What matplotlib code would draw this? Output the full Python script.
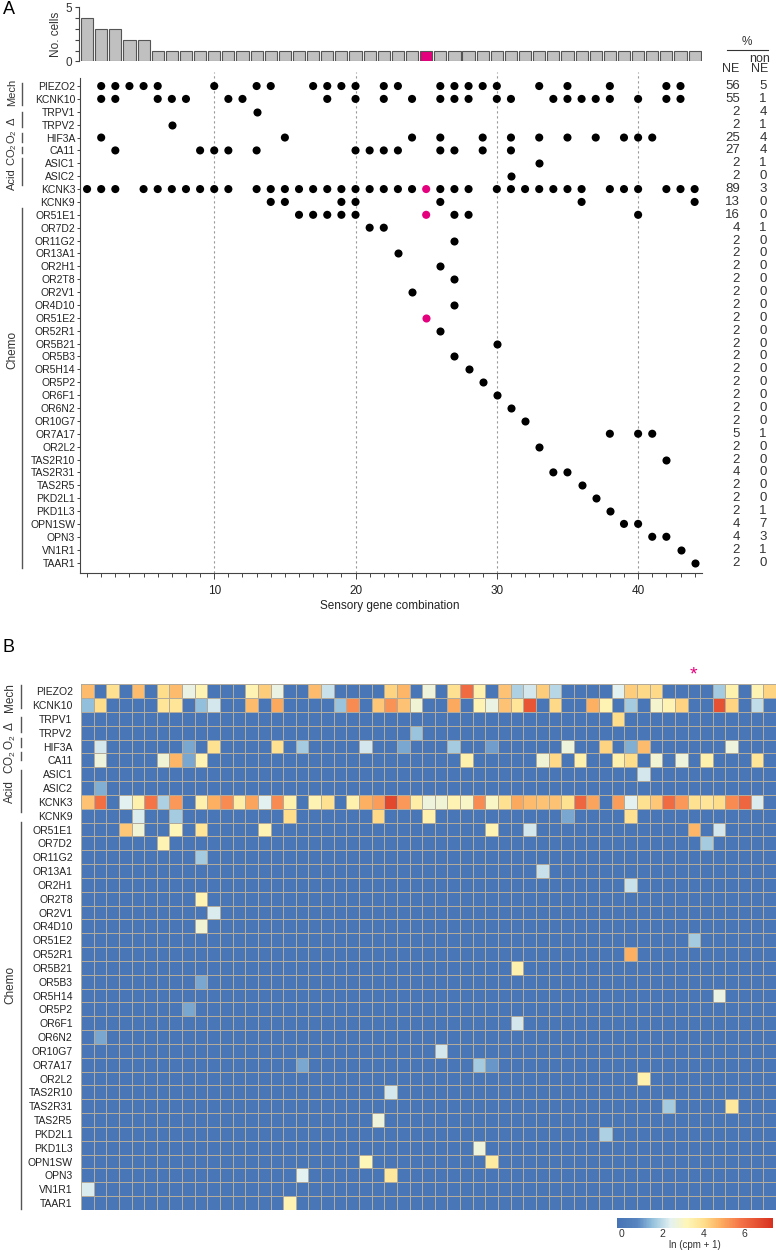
import matplotlib.pyplot as plt
import numpy as np
from matplotlib.colors import LinearSegmentedColormap
from matplotlib.lines import Line2D
from matplotlib import transforms

plt.rcParams['font.family'] = ['Liberation Sans', 'DejaVu Sans']
plt.rcParams['mathtext.default'] = 'regular'

# ---------------- data ----------------
genes = ['PIEZO2', 'KCNK10', 'TRPV1', 'TRPV2', 'HIF3A', 'CA11', 'ASIC1', 'ASIC2', 'KCNK3', 'KCNK9',
         'OR51E1', 'OR7D2', 'OR11G2', 'OR13A1', 'OR2H1', 'OR2T8', 'OR2V1', 'OR4D10', 'OR51E2', 'OR52R1',
         'OR5B21', 'OR5B3', 'OR5H14', 'OR5P2', 'OR6F1', 'OR6N2', 'OR10G7', 'OR7A17', 'OR2L2', 'TAS2R10',
         'TAS2R31', 'TAS2R5', 'PKD2L1', 'PKD1L3', 'OPN1SW', 'OPN3', 'VN1R1', 'TAAR1']

combos = np.arange(1, 45)
n_cells = [4, 3, 3, 2, 2, 1, 1, 1, 1, 1, 1, 1, 1, 1, 1, 1, 1, 1, 1, 1, 1, 1,
           1, 1, 1, 1, 1, 1, 1, 1, 1, 1, 1, 1, 1, 1, 1, 1, 1, 1, 1, 1, 1, 1]
highlight = 25

# combination numbers in which each gene is present
dot_cols = {
    'PIEZO2': [2, 3, 4, 5, 6, 10, 13, 14, 17, 18, 19, 20, 22, 23, 26, 27, 28, 29, 30, 33, 35, 38, 42, 43],
    'KCNK10': [2, 3, 6, 7, 8, 11, 12, 18, 20, 22, 24, 26, 27, 28, 30, 31, 34, 35, 36, 37, 38, 40, 42, 43],
    'TRPV1': [13],
    'TRPV2': [7],
    'HIF3A': [2, 15, 24, 26, 29, 31, 33, 35, 37, 39, 40, 41],
    'CA11': [3, 9, 10, 11, 13, 20, 21, 22, 23, 26, 27, 29, 31],
    'ASIC1': [33],
    'ASIC2': [31],
    'KCNK3': [1, 2, 3, 5, 6, 7, 8, 9, 10, 11, 13, 14, 15, 16, 17, 18, 19, 20, 21, 22, 23, 24, 25, 26,
              27, 28, 30, 31, 32, 33, 34, 35, 36, 38, 39, 40, 42, 43, 44],
    'KCNK9': [14, 15, 19, 20, 26, 36, 44],
    'OR51E1': [16, 17, 18, 19, 20, 25, 27, 28, 40],
    'OR7D2': [21, 22],
    'OR11G2': [27],
    'OR13A1': [23],
    'OR2H1': [26],
    'OR2T8': [27],
    'OR2V1': [24],
    'OR4D10': [27],
    'OR51E2': [25],
    'OR52R1': [26],
    'OR5B21': [30],
    'OR5B3': [27],
    'OR5H14': [28],
    'OR5P2': [29],
    'OR6F1': [30],
    'OR6N2': [31],
    'OR10G7': [32],
    'OR7A17': [38, 40, 41],
    'OR2L2': [33],
    'TAS2R10': [42],
    'TAS2R31': [34, 35],
    'TAS2R5': [36],
    'PKD2L1': [37],
    'PKD1L3': [38],
    'OPN1SW': [39, 40],
    'OPN3': [41, 42],
    'VN1R1': [43],
    'TAAR1': [44],
}

pct_ne = [56, 55, 2, 2, 25, 27, 2, 2, 89, 13, 16, 4, 2, 2, 2, 2, 2, 2, 2, 2,
          2, 2, 2, 2, 2, 2, 2, 5, 2, 2, 4, 2, 2, 2, 4, 4, 2, 2]
pct_non = [5, 1, 4, 1, 4, 4, 1, 0, 3, 0, 0, 1, 0, 0, 0, 0, 0, 0, 0, 0,
           0, 0, 0, 0, 0, 0, 0, 1, 0, 0, 0, 0, 0, 1, 7, 3, 1, 0]

# heatmap: (cell index, ln(cpm+1)) for non-zero cells, 55 cells shown
n_heat_cells = 55
heat_nonzero = {
    'PIEZO2': [(0, 4.6), (2, 3.9), (4, 4.6), (6, 4.0), (7, 4.6), (8, 2.6), (9, 3.3), (13, 3.3), (14, 4.3),
               (15, 2.6), (18, 4.6), (19, 2.1), (24, 4.2), (25, 4.7), (27, 2.7), (29, 3.9), (30, 6.0),
               (31, 3.4), (33, 4.5), (34, 1.8), (35, 2.2), (36, 4.3), (37, 1.9), (42, 2.4), (43, 4.3),
               (44, 4.1), (45, 4.1), (50, 1.7), (51, 3.4), (53, 3.3), (54, 4.2)],
    'KCNK10': [(0, 1.5), (1, 4.0), (6, 3.8), (7, 3.8), (9, 1.5), (10, 2.2), (13, 4.6), (15, 4.9), (20, 1.6),
               (21, 5.4), (23, 4.4), (24, 5.3), (25, 4.5), (26, 2.8), (29, 4.9), (31, 3.3), (32, 2.6),
               (33, 4.5), (34, 3.8), (35, 6.5), (37, 4.1), (40, 4.8), (41, 3.3), (43, 1.7), (45, 2.9),
               (46, 3.3), (47, 4.2), (50, 6.6), (51, 4.2), (53, 2.0)],
    'TRPV1': [(42, 4.0)],
    'TRPV2': [(26, 1.6)],
    'HIF3A': [(1, 2.2), (8, 1.2), (10, 3.9), (15, 3.9), (17, 1.7), (22, 2.2), (25, 1.2), (29, 1.7),
              (32, 1.1), (38, 2.7), (41, 4.2), (43, 1.3), (44, 4.6), (51, 2.7)],
    'CA11': [(1, 2.7), (6, 2.8), (7, 4.7), (8, 1.2), (9, 3.3), (30, 3.4), (36, 2.8), (37, 4.1), (39, 3.4),
             (42, 3.4), (43, 4.0), (45, 2.8), (47, 2.7), (49, 3.4), (53, 3.8)],
    'ASIC1': [(44, 2.2)],
    'ASIC2': [(1, 1.3)],
    'KCNK3': [(0, 4.5), (1, 5.9), (3, 2.4), (4, 3.4), (5, 5.8), (6, 1.8), (7, 5.2), (9, 3.4), (10, 4.8),
              (11, 5.4), (12, 3.5), (13, 5.0), (14, 2.4), (15, 5.4), (16, 3.4), (18, 3.3), (19, 3.9),
              (21, 3.4), (22, 4.8), (23, 5.1), (24, 6.8), (25, 5.2), (26, 3.5), (27, 2.7), (28, 2.8),
              (29, 3.3), (30, 3.0), (31, 5.4), (32, 3.0), (33, 3.9), (34, 4.9), (35, 4.6), (36, 4.5),
              (37, 4.5), (38, 3.9), (39, 6.1), (40, 5.0), (42, 5.1), (43, 2.4), (44, 3.9), (45, 4.4),
              (46, 6.0), (47, 5.2), (48, 3.9), (49, 3.8), (50, 4.0), (51, 5.4), (52, 6.1), (53, 2.3)],
    'KCNK9': [(4, 2.3), (7, 1.7), (16, 4.0), (23, 4.1), (27, 3.4), (38, 1.2), (43, 3.9)],
    'OR51E1': [(3, 4.4), (4, 2.8), (7, 3.2), (9, 3.8), (14, 3.3), (32, 3.3), (35, 2.2), (48, 4.7), (50, 2.2)],
    'OR7D2': [(6, 3.3), (49, 1.7)],
    'OR11G2': [(9, 1.7)],
    'OR13A1': [(36, 2.1)],
    'OR2H1': [(43, 2.1)],
    'OR2T8': [(9, 3.3)],
    'OR2V1': [(10, 2.3)],
    'OR4D10': [(9, 2.8)],
    'OR51E2': [(48, 1.7)],
    'OR52R1': [(43, 4.8)],
    'OR5B21': [(34, 3.4)],
    'OR5B3': [(9, 1.2)],
    'OR5H14': [(50, 2.6)],
    'OR5P2': [(8, 1.2)],
    'OR6F1': [(34, 2.2)],
    'OR6N2': [(1, 1.2)],
    'OR10G7': [(28, 2.2)],
    'OR7A17': [(17, 1.2), (31, 1.7), (32, 1.0)],
    'OR2L2': [(44, 3.4)],
    'TAS2R10': [(24, 2.2)],
    'TAS2R31': [(46, 1.7), (51, 3.7)],
    'TAS2R5': [(23, 2.7)],
    'PKD2L1': [(41, 1.8)],
    'PKD1L3': [(31, 2.7)],
    'OPN1SW': [(22, 3.2), (32, 3.6)],
    'OPN3': [(17, 2.4), (24, 3.7)],
    'VN1R1': [(0, 2.3)],
    'TAAR1': [(16, 3.3)],
}
asterisk_cell = 48

# ---------------- figure ----------------
W, H = 776, 1251
fig = plt.figure(figsize=(W / 100, H / 100), dpi=100)
GRAY = '#444444'
PINK = '#e5007d'


def add_ax(x0, y0, x1, y1):
    return fig.add_axes([x0 / W, 1 - y1 / H, (x1 - x0) / W, (y1 - y0) / H])


def vline_px(x, y0, y1):
    fig.add_artist(Line2D([x / W, x / W], [1 - y0 / H, 1 - y1 / H], color='#555555', lw=1.0))


def rot_label(x, y, s, size=8.5):
    fig.text(x / W, 1 - y / H, s, rotation=90, ha='center', va='center', fontsize=size, color='#333333')


n_genes = len(genes)

# ---- bar chart (No. cells) ----
axb = add_ax(80, 7.3, 701.7, 61.3)
bar_colors = [PINK if c == highlight else '#c0c0c0' for c in combos]
axb.bar(combos, n_cells, width=0.86, color=bar_colors, edgecolor='#555555', linewidth=0.8)
axb.set_xlim(0.5, 44.5)
axb.set_ylim(0, 5)
for s in ['top', 'right', 'bottom']:
    axb.spines[s].set_visible(False)
axb.spines['left'].set_color(GRAY)
axb.spines['left'].set_position(('outward', 1))
axb.set_xticks([])
axb.set_yticks([0, 5])
axb.set_yticks([1, 2, 3, 4], minor=True)
axb.tick_params(axis='y', which='both', length=3, width=0.8, color=GRAY, labelsize=8.5, pad=1.5,
                labelcolor='#333333')
axb.set_ylabel('No. cells', fontsize=8.5, color='#333333', labelpad=3)

# ---- dot matrix ----
axd = add_ax(80, 72, 701.7, 572.7)
axd.set_xlim(0.5, 44.5)
axd.set_ylim(37.79, -1.09)
for xv in [10, 20, 30, 40]:
    axd.axvline(xv, color='#999999', lw=0.8, ls=(0, (2, 2.5)), zorder=1)
for r, g in enumerate(genes):
    cols = dot_cols[g]
    colors = [PINK if c == highlight else 'black' for c in cols]
    axd.scatter(cols, [r] * len(cols), s=34, c=colors, linewidths=0, zorder=3)
for s in ['top', 'right']:
    axd.spines[s].set_visible(False)
axd.spines['left'].set_bounds(37.79, -0.6)
axd.spines['left'].set_color(GRAY)
axd.spines['bottom'].set_color(GRAY)
axd.set_yticks(range(n_genes))
axd.set_yticklabels(genes, fontsize=7.5, color='#222222')
axd.tick_params(axis='y', length=2, width=0.7, color=GRAY, pad=1.5)
axd.set_xticks([10, 20, 30, 40])
axd.set_xticks(combos, minor=True)
axd.tick_params(axis='x', which='major', length=4, width=0.7, color=GRAY, labelsize=8.5, pad=5,
                labelcolor='#222222')
axd.tick_params(axis='x', which='minor', length=3, width=0.7, color=GRAY)
fig.text(390 / W, 1 - 606 / H, 'Sensory gene combination', ha='center', va='center', fontsize=8.5,
         color='#222222')

# percentage columns
tr = transforms.blended_transform_factory(fig.transFigure, axd.transData)
for r in range(n_genes):
    axd.text(740 / W, r, str(pct_ne[r]), transform=tr, ha='right', va='center', fontsize=9.5,
             color='#333333', clip_on=False)
    axd.text(763 / W, r, str(pct_non[r]), transform=tr, ha='center', va='center', fontsize=9.5,
             color='#333333', clip_on=False)
fig.text(747 / W, 1 - 42 / H, '%', ha='center', va='center', fontsize=8.5, color='#333333')
fig.add_artist(Line2D([727 / W, 768 / W], [1 - 50 / H, 1 - 50 / H], color='#333333', lw=0.8))
fig.text(731 / W, 1 - 69.5 / H, 'NE', ha='center', va='center', fontsize=9, color='#333333')
fig.text(760 / W, 1 - 58.5 / H, 'non', ha='center', va='center', fontsize=9, color='#333333')
fig.text(760 / W, 1 - 69.5 / H, 'NE', ha='center', va='center', fontsize=9, color='#333333')

# group brackets for panel A
for y0, y1 in [(83, 105), (112, 127), (133, 142), (147, 153), (158, 185), (208, 568)]:
    vline_px(22, y0, y1)
for y, s in [(92, 'Mech'), (121, 'Δ'), (137, 'O$_2$'), (155, 'CO$_2$'), (179, 'Acid'), (350, 'Chemo')]:
    rot_label(12, y, s, size=8 if s != 'Chemo' else 8.5)

fig.text(3 / W, 1 - 9 / H, 'A', ha='left', va='center', fontsize=13)

# ---- heatmap ----
heat = np.zeros((n_genes, n_heat_cells))
for r, g in enumerate(genes):
    for c, v in heat_nonzero[g]:
        heat[r, c] = v

cmap = LinearSegmentedColormap.from_list('expr', [
    (0.00, '#4573b4'),
    (0.13, '#5885c0'),
    (0.225, '#93c0dc'),
    (0.343, '#e4f2f1'),
    (0.449, '#fef6b8'),
    (0.555, '#fedf8c'),
    (0.66, '#fdb063'),
    (0.792, '#f47447'),
    (1.00, '#d7301f')])
vmin, vmax = -0.2, 7.37

axh = add_ax(81, 684.3, 776, 1210)
mesh = axh.pcolormesh(heat, cmap=cmap, vmin=vmin, vmax=vmax, edgecolors='#b2ab9b', linewidth=0.6)
axh.set_xlim(0, n_heat_cells)
axh.set_ylim(n_genes, 0)
axh.set_xticks([])
axh.set_yticks(np.arange(n_genes) + 0.5)
axh.set_yticklabels(genes, fontsize=7.5, color='#222222')
axh.tick_params(axis='y', length=0, pad=6)
for s in axh.spines.values():
    s.set_visible(False)
axh.text(asterisk_cell + 0.5, -0.65, '*', color=PINK, fontsize=14, ha='center', va='center',
         clip_on=False)

for y0, y1 in [(685, 708), (717, 732), (738, 747), (752, 760), (770, 812), (822, 1209)]:
    vline_px(21, y0, y1)
for y, s in [(698, 'Mech'), (726, 'Δ'), (742, 'O$_2$'), (762, 'CO$_2$'), (792, 'Acid'), (985, 'Chemo')]:
    rot_label(10, y, s)

fig.text(3 / W, 1 - 647 / H, 'B', ha='left', va='center', fontsize=13)

# colorbar
cax = add_ax(617, 1218, 773, 1228)
cb = fig.colorbar(mesh, cax=cax, orientation='horizontal', ticks=[0, 2, 4, 6])
cb.outline.set_visible(False)
cax.tick_params(length=0, labelsize=7.5, pad=1, labelcolor='#333333')
fig.text(695 / W, 1 - 1245 / H, 'ln (cpm + 1)', ha='center', va='center', fontsize=7, color='#333333')

fig.savefig('out.png', dpi=100)
